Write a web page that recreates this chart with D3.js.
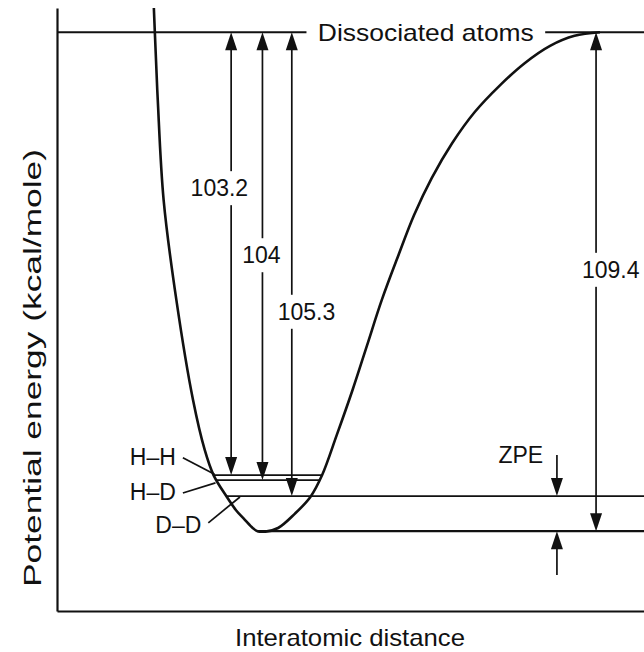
<!DOCTYPE html>
<html><head><meta charset="utf-8">
<script src="https://cdn.jsdelivr.net/npm/d3@7"></script>
<style>html,body{margin:0;padding:0;background:#fff;}svg{display:block;}</style>
</head><body>
<script>
// ---- data (schematic potential-energy curve) ----
const rCurve = [0.99,1.00,1.03,1.09,1.22,1.39,1.51,1.60,1.73,1.83,1.92,2.00,2.05,2.13,2.26,2.43,2.59,2.71,2.86,3.02,3.17,3.32,3.49,3.65,3.83,4.04,4.27,4.53,4.78,5.04,5.29,5.55];
const eCurve = [114.7,109.4,94.5,72.6,50.7,28.8,17.8,12.3,7.7,4.6,2.5,0.7,0.0,-0.1,0.7,3.8,7.5,12.3,21.1,30.9,40.8,50.7,60.5,69.3,77.4,85.1,91.9,97.8,102.6,106.4,108.6,109.4];
const dissocE = 109.4;
const levelNames = ["H–H","H–D","D–D"];
const levelE = [12.3, 11.2, 7.7];
const levelLabelR = [0.98, 0.98, 1.24];
const levelLabelE = [16.3, 8.6, 1.4];
const leaderEndR = [1.61, 1.62, 1.87];
const leaderEndE = [12.5, 10.6, 7.5];
const bondLabels = ["103.2","104","105.3"];
const bondArrowR = [1.78, 2.10, 2.40];
const bondLabelR = [1.66, 2.09, 2.55];
const bondLabelE = [75.2, 60.5, 48.1];
const wellLabel = "109.4";
const wellArrowR = 5.51, wellLabelR = 5.66, wellLabelE = 57.3;
const zpeArrowR = 5.11, zpeTextR = 4.97, zpeTextE = 16.7, zpeTailTopE = 16.7, zpeTailBotE = -9.6;
const dissocText = "Dissociated atoms";
const dissocGap = [2.55, 4.99];
const xTitle = "Interatomic distance";
const yTitle = "Potential energy (kcal/mole)";

const W = 644, H = 652;
const x = d3.scaleLinear().domain([0, 6]).range([57, 644]);
const y = d3.scaleLinear().domain([-17.5, 114.7]).range([611, 8]);
const FONT = "'Liberation Sans', Arial, Helvetica, sans-serif";
const INK = "#111";

const svg = d3.select("body").append("svg").attr("width", W).attr("height", H)
  .style("font-family", FONT);

// frame axes (no ticks)
svg.append("g").attr("transform", `translate(0,${y(-17.5)})`)
  .call(d3.axisBottom(x).tickValues([]).tickSizeOuter(0))
  .select(".domain").attr("stroke", INK).attr("stroke-width", 2.2);
svg.append("g").attr("transform", `translate(${x(0)},0)`)
  .call(d3.axisLeft(y).tickValues([]).tickSizeOuter(0))
  .select(".domain").attr("stroke", INK).attr("stroke-width", 2.2);

// helpers
const pts = rCurve.map((r, i) => [r, eCurve[i]]);
let minIdx = 0; eCurve.forEach((e, i) => { if (e < eCurve[minIdx]) minIdx = i; });
function crossLeft(E) {
  for (let i = 1; i <= minIdx; i++) {
    const [r0, e0] = pts[i - 1], [r1, e1] = pts[i];
    if ((e0 - E) * (e1 - E) <= 0 && e0 !== e1) return r0 + (E - e0) / (e1 - e0) * (r1 - r0);
  }
  return rCurve[minIdx];
}
function crossRight(E) {
  for (let i = minIdx + 1; i < pts.length; i++) {
    const [r0, e0] = pts[i - 1], [r1, e1] = pts[i];
    if ((e0 - E) * (e1 - E) <= 0 && e0 !== e1) return r0 + (E - e0) / (e1 - e0) * (r1 - r0);
  }
  return rCurve[rCurve.length - 1];
}
function hline(r0, r1, E, w) {
  svg.append("line").attr("x1", x(r0)).attr("x2", x(r1)).attr("y1", y(E)).attr("y2", y(E))
    .attr("stroke", INK).attr("stroke-width", w);
}
function head(px, py, dir) { // dir -1 = pointing up, +1 = pointing down
  const L = 18, hw = 6;
  svg.append("path").attr("d", `M${px},${py} L${px - hw},${py - dir * L} L${px + hw},${py - dir * L} Z`)
    .attr("fill", INK);
}
function varrow(r, Etop, Ebot, topHead, botHead) {
  const px = x(r), yt = y(Etop), yb = y(Ebot);
  svg.append("line").attr("x1", px).attr("x2", px)
    .attr("y1", yt + (topHead ? 10 : 0)).attr("y2", yb - (botHead ? 10 : 0))
    .attr("stroke", INK).attr("stroke-width", 1.7);
  if (topHead) head(px, yt, -1);
  if (botHead) head(px, yb, 1);
}
function label(txt, px, py, opts = {}) {
  const t = svg.append("text").attr("x", px).attr("y", py)
    .attr("text-anchor", opts.anchor || "middle").attr("dominant-baseline", "central")
    .attr("font-size", opts.size || 23).attr("fill", INK).text(txt);
  if (opts.len) t.attr("textLength", opts.len).attr("lengthAdjust", "spacingAndGlyphs");
  if (opts.bg) {
    const b = t.node().getBBox();
    svg.insert("rect", () => t.node()).attr("x", b.x - 2).attr("y", b.y - 4)
      .attr("width", b.width + 4).attr("height", b.height + 8).attr("fill", "#fff");
  }
  return t;
}

// dissociation line with text
hline(0, dissocGap[0], dissocE, 2);
hline(dissocGap[1], 6, dissocE, 2);
label(dissocText, (x(dissocGap[0]) + x(dissocGap[1])) / 2, y(dissocE), { len: 216, size: 24 });

// vibrational levels
hline(crossLeft(levelE[0]), crossRight(levelE[0]), levelE[0], 1.8);
hline(crossLeft(levelE[1]), crossRight(levelE[1]), levelE[1], 1.8);
hline(crossLeft(levelE[2]), 6, levelE[2], 1.8);
hline(crossLeft(0), 6, 0, 2.2);

// potential curve
svg.append("path").datum(pts)
  .attr("d", d3.line().x(d => x(d[0])).y(d => y(d[1])).curve(d3.curveCatmullRom.alpha(0.5)))
  .attr("fill", "none").attr("stroke", INK).attr("stroke-width", 2.6);

// dissociation energy arrows
bondLabels.forEach((t, i) => {
  varrow(bondArrowR[i], dissocE, levelE[i], true, true);
  label(t, x(bondLabelR[i]), y(bondLabelE[i]), { bg: true });
});
varrow(wellArrowR, dissocE, 0, true, true);
label(wellLabel, x(wellLabelR), y(wellLabelE), { bg: true });

// ZPE arrows
varrow(zpeArrowR, zpeTailTopE, levelE[2], false, true);
varrow(zpeArrowR, 0, zpeTailBotE, true, false);
label("ZPE", x(zpeTextR), y(zpeTextE), { anchor: "end" });

// level labels + leaders
levelNames.forEach((n, i) => {
  const lx = x(levelLabelR[i]), ly = y(levelLabelE[i]);
  label(n, lx, ly);
  svg.append("line").attr("x1", lx + 30).attr("y1", ly + (i === 2 ? -2 : 1))
    .attr("x2", x(leaderEndR[i])).attr("y2", y(leaderEndE[i]))
    .attr("stroke", INK).attr("stroke-width", 1.7);
});

// axis titles
label(xTitle, 350, 637, { len: 230, size: 24 });
svg.append("text").attr("transform", "translate(33,368) rotate(-90)")
  .attr("text-anchor", "middle").attr("dominant-baseline", "central")
  .attr("font-size", 23).attr("fill", INK)
  .attr("textLength", 438).attr("lengthAdjust", "spacingAndGlyphs").text(yTitle);
</script>
</body></html>
